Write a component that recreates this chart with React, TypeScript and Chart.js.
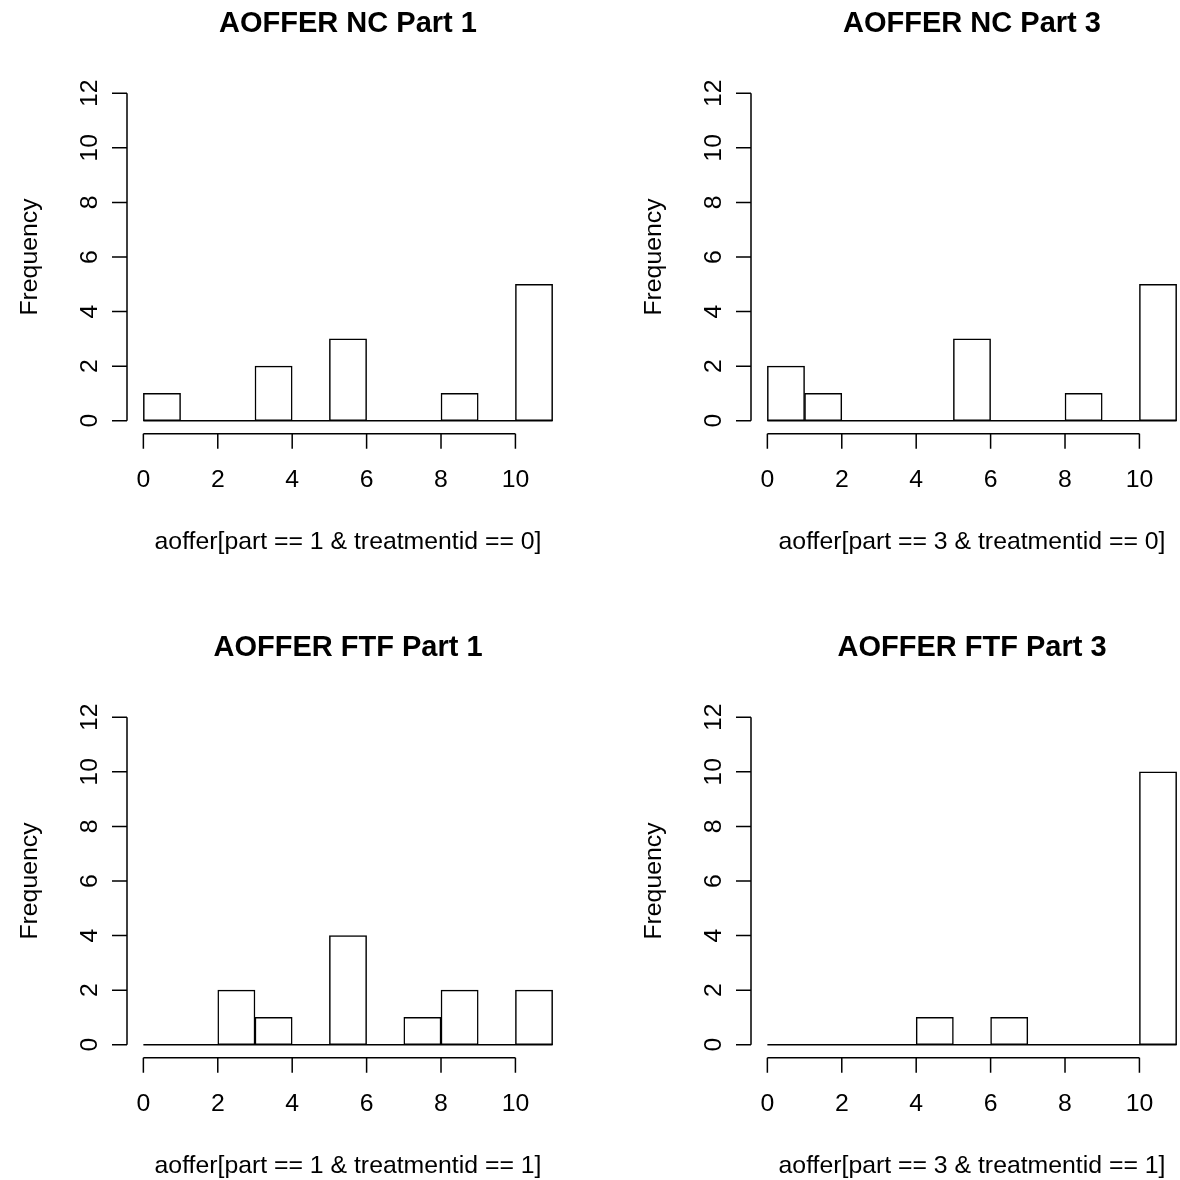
import { useEffect, useRef } from "react";
import { Chart, registerables } from "chart.js";

Chart.register(...registerables);

// Histogram bins: [0,1), [1,2), ... [10,11]
const binStarts = [0, 1, 2, 3, 4, 5, 6, 7, 8, 9, 10];
const ncPart1 = [1, 0, 0, 2, 0, 3, 0, 0, 1, 0, 5];
const ncPart3 = [2, 1, 0, 0, 0, 3, 0, 0, 1, 0, 5];
const ftfPart1 = [0, 0, 2, 1, 0, 4, 0, 1, 2, 0, 2];
const ftfPart3 = [0, 0, 0, 0, 1, 0, 1, 0, 0, 0, 10];
const xTicks = [0, 2, 4, 6, 8, 10];
const yTicks = [0, 2, 4, 6, 8, 10, 12];
const titles = ["AOFFER NC Part 1", "AOFFER NC Part 3", "AOFFER FTF Part 1", "AOFFER FTF Part 3"];
const xLabels = [
  "aoffer[part == 1 & treatmentid == 0]",
  "aoffer[part == 3 & treatmentid == 0]",
  "aoffer[part == 1 & treatmentid == 1]",
  "aoffer[part == 3 & treatmentid == 1]",
];
const yLabel = "Frequency";
const panelCounts = [ncPart1, ncPart3, ftfPart1, ftfPart3];

const PANEL = 624;
const FONT = '"Liberation Sans", Arial, Helvetica, sans-serif';
const LW = 1.5;

const rAxesPlugin = {
  id: "rAxes",
  afterDraw(chart: any, _args: any, opts: any) {
    const { ctx, chartArea } = chart;
    const xs = chart.scales.x;
    const ys = chart.scales.y;
    ctx.save();
    ctx.strokeStyle = "#000";
    ctx.fillStyle = "#000";
    ctx.lineWidth = LW;
    // x axis
    const ay = chartArea.bottom;
    const xa = xs.getPixelForValue(xTicks[0]);
    const xb = xs.getPixelForValue(xTicks[xTicks.length - 1]);
    ctx.beginPath();
    ctx.moveTo(xa, ay);
    ctx.lineTo(xb, ay);
    for (const t of xTicks) {
      const px = xs.getPixelForValue(t);
      ctx.moveTo(px, ay);
      ctx.lineTo(px, ay + 15);
    }
    // y axis
    const ax = chartArea.left;
    const ya = ys.getPixelForValue(yTicks[0]);
    const yb = ys.getPixelForValue(yTicks[yTicks.length - 1]);
    ctx.moveTo(ax, ya);
    ctx.lineTo(ax, yb);
    for (const t of yTicks) {
      const py = ys.getPixelForValue(t);
      ctx.moveTo(ax, py);
      ctx.lineTo(ax - 15, py);
    }
    ctx.stroke();

    ctx.font = `24.8px ${FONT}`;
    ctx.textAlign = "center";
    ctx.textBaseline = "alphabetic";
    for (const t of xTicks) {
      ctx.fillText(String(t), xs.getPixelForValue(t), ay + 53);
    }
    for (const t of yTicks) {
      ctx.save();
      ctx.translate(ax - 30, ys.getPixelForValue(t));
      ctx.rotate(-Math.PI / 2);
      ctx.fillText(String(t), 0, 0);
      ctx.restore();
    }
    // x label
    const cx = (chartArea.left + chartArea.right) / 2;
    ctx.fillText(opts.xLabel, cx, ay + 115);
    // y label
    ctx.save();
    ctx.translate(ax - 90, (chartArea.top + chartArea.bottom) / 2);
    ctx.rotate(-Math.PI / 2);
    ctx.fillText(yLabel, 0, 0);
    ctx.restore();
    // title
    ctx.font = `bold 29px ${FONT}`;
    ctx.fillText(opts.title, cx, 32.3);
    ctx.restore();
  },
};

function Panel({ idx }: { idx: number }) {
  const ref = useRef<HTMLCanvasElement | null>(null);
  useEffect(() => {
    if (!ref.current) return;
    const counts = panelCounts[idx];
    const chart = new Chart(ref.current, {
      type: "bar",
      data: {
        datasets: [
          {
            type: "line",
            data: [
              { x: binStarts[0], y: 0 },
              { x: binStarts[binStarts.length - 1] + 1, y: 0 },
            ],
            borderColor: "#000",
            borderWidth: LW,
            pointRadius: 0,
            fill: false,
            order: 2,
          } as any,
          {
            type: "bar",
            data: binStarts.map((b, i) => ({ x: b + 0.5, y: counts[i] })),
            backgroundColor: "#fff",
            borderColor: "#000",
            borderWidth: LW,
            borderSkipped: false,
            barPercentage: 1,
            categoryPercentage: 1,
            order: 1,
          } as any,
        ],
      },
      options: {
        animation: false,
        responsive: false,
        maintainAspectRatio: false,
        devicePixelRatio: 1,
        layout: { padding: { left: 127, right: 55, top: 80.2, bottom: 190.2 } },
        scales: {
          x: { type: "linear", min: -0.44, max: 11.44, offset: false, display: false },
          y: { type: "linear", min: -0.48, max: 12.48, display: false },
        },
        plugins: {
          legend: { display: false },
          tooltip: { enabled: false },
          rAxes: { title: titles[idx], xLabel: xLabels[idx] },
        } as any,
      },
      plugins: [rAxesPlugin],
    });
    return () => chart.destroy();
  }, [idx]);
  return (
    <div
      style={{
        position: "absolute",
        left: (idx % 2) * PANEL,
        top: Math.floor(idx / 2) * PANEL,
        width: PANEL,
        height: PANEL,
      }}
    >
      <canvas ref={ref} width={PANEL} height={PANEL} style={{ width: PANEL, height: PANEL, display: "block" }} />
    </div>
  );
}

export default function App() {
  useEffect(() => {
    document.body.style.margin = "0";
    document.body.style.background = "#fff";
  }, []);
  return (
    <div style={{ position: "relative", width: 1180, height: 1180, overflow: "hidden", background: "#fff" }}>
      {[0, 1, 2, 3].map((i) => (
        <Panel key={i} idx={i} />
      ))}
    </div>
  );
}
